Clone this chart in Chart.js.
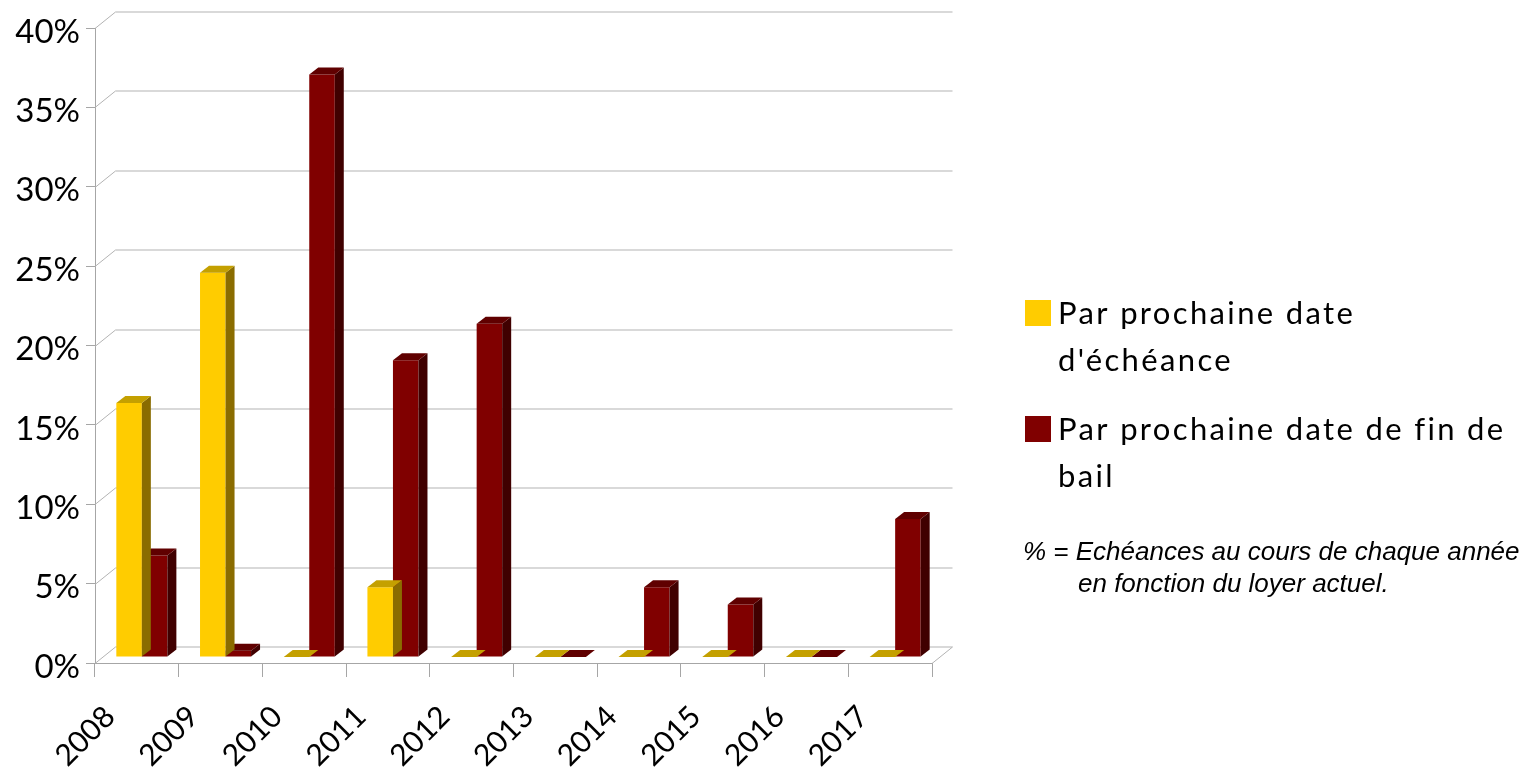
<!DOCTYPE html>
<html>
<head>
<meta charset="utf-8">
<script src="https://cdn.jsdelivr.net/npm/chart.js@4"></script>
<style>
  html, body { margin: 0; padding: 0; background: #ffffff; }
  #chart { display: block; }
</style>
</head>
<body>
<canvas id="chart" width="1539" height="770"></canvas>
<script>
const years = ["2008", "2009", "2010", "2011", "2012", "2013", "2014", "2015", "2016", "2017"];
const echeance = [16.0, 24.2, 0, 4.4, 0, 0, 0, 0, 0, 0];
const finDeBail = [6.4, 0.4, 36.7, 18.7, 21.0, 0, 4.4, 3.3, 0, 8.7];
const yTickValues = [0, 5, 10, 15, 20, 25, 30, 35, 40];

const seriesLines = [
  ["Par prochaine date", "d'échéance"],
  ["Par prochaine date de fin de", "bail"]
];
const noteLines = ["% = Echéances au cours de chaque année", "en fonction du loyer actuel."];

// depth of the walls and of the bars
const wallDX = 20.5;
const wallDY = -16.5;
const barShiftX = 5;
const barShiftY = -6;
const barDX = 9;
const barDY = -7;

const frontColors = ["#ffcc00", "#800000"];
const sideColors = ["#8a6c00", "#400000"];
const topColors = ["#c4a000", "#600000"];

const gridColor = "#b3b3b3";

const depthPlugin = {
  id: "depth",
  beforeDatasetsDraw(chart) {
    const { ctx, chartArea: a, scales } = chart;
    const y = scales.y;
    ctx.save();
    ctx.strokeStyle = gridColor;
    ctx.lineWidth = 1;
    ctx.beginPath();
    yTickValues.forEach((v) => {
      const py = Math.round(y.getPixelForValue(v)) + 0.5;
      ctx.moveTo(a.left, py);
      ctx.lineTo(a.left + wallDX, py + wallDY);
      ctx.lineTo(a.right + wallDX, py + wallDY);
    });
    ctx.moveTo(a.right, a.bottom + 0.5);
    ctx.lineTo(a.right + wallDX, a.bottom + 0.5 + wallDY);
    ctx.stroke();
    ctx.restore();

    ctx.save();
    ctx.translate(barShiftX, barShiftY);
  },
  afterDatasetDraw(chart, args) {
    const ctx = chart.ctx;
    const i = args.index;
    args.meta.data.forEach((bar) => {
      const left = bar.x - bar.width / 2;
      const right = bar.x + bar.width / 2;
      const top = Math.min(bar.y, bar.base);
      const base = Math.max(bar.y, bar.base);
      if (base - top > 0.5) {
        ctx.fillStyle = sideColors[i];
        ctx.beginPath();
        ctx.moveTo(right, top);
        ctx.lineTo(right + barDX, top + barDY);
        ctx.lineTo(right + barDX, base + barDY);
        ctx.lineTo(right, base);
        ctx.closePath();
        ctx.fill();
      }
      ctx.fillStyle = topColors[i];
      ctx.beginPath();
      ctx.moveTo(left, top);
      ctx.lineTo(left + barDX, top + barDY);
      ctx.lineTo(right + barDX, top + barDY);
      ctx.lineTo(right, top);
      ctx.closePath();
      ctx.fill();
    });
  },
  afterDatasetsDraw(chart) {
    chart.ctx.restore();
  },
  afterDraw(chart) {
    const ctx = chart.ctx;
    ctx.save();
    // legend
    const boxTops = [300, 416];
    chart.data.datasets.forEach((ds, i) => {
      ctx.fillStyle = ds.backgroundColor;
      ctx.fillRect(1025, boxTops[i], 26, 26);
      ctx.fillStyle = "#000000";
      ctx.font = "31px Lato";
      ctx.letterSpacing = "2.35px";
      ctx.textBaseline = "alphabetic";
      seriesLines[i].forEach((line, k) => {
        ctx.fillText(line, 1058, boxTops[i] + 24 + k * 46.5);
      });
    });
    // note
    ctx.letterSpacing = "0px";
    ctx.font = "italic 26px 'Liberation Sans'";
    ctx.fillStyle = "#000000";
    ctx.fillText(noteLines[0], 1023, 560);
    ctx.fillText(noteLines[1], 1078, 592);
    ctx.restore();
  }
};

new Chart(document.getElementById("chart"), {
  type: "bar",
  data: {
    labels: years,
    datasets: [
      {
        label: seriesLines[0].join(" "),
        data: echeance,
        backgroundColor: frontColors[0],
        categoryPercentage: 0.61,
        barPercentage: 1.0,
        clip: false
      },
      {
        label: seriesLines[1].join(" "),
        data: finDeBail,
        backgroundColor: frontColors[1],
        categoryPercentage: 0.61,
        barPercentage: 1.0,
        clip: false
      }
    ]
  },
  options: {
    responsive: false,
    animation: false,
    devicePixelRatio: 1,
    layout: {
      padding: { left: 0, top: 28, right: 607, bottom: 0 }
    },
    scales: {
      x: {
        afterFit(scale) {
          scale.height = 107;
        },
        grid: {
          drawOnChartArea: false,
          drawTicks: true,
          tickLength: 14,
          color: "#a6a6a6"
        },
        border: { color: "#a6a6a6" },
        ticks: {
          autoSkip: false,
          minRotation: 45,
          maxRotation: 45,
          labelOffset: -27,
          padding: 22,
          color: "#000000",
          font: { family: "Lato", size: 30 }
        }
      },
      y: {
        min: 0,
        max: 40,
        afterFit(scale) {
          scale.width = 95;
        },
        afterBuildTicks(scale) {
          scale.ticks = yTickValues.map((v) => ({ value: v }));
        },
        grid: {
          drawOnChartArea: false,
          drawTicks: true,
          tickLength: 9,
          color: "#a6a6a6"
        },
        border: { color: "#a6a6a6" },
        ticks: {
          padding: 6,
          labelOffset: 4,
          color: "#000000",
          font: { family: "Lato", size: 33 },
          callback: (v) => v + "%"
        }
      }
    },
    plugins: {
      legend: { display: false },
      tooltip: { enabled: false }
    }
  },
  plugins: [depthPlugin]
});
</script>
</body>
</html>
